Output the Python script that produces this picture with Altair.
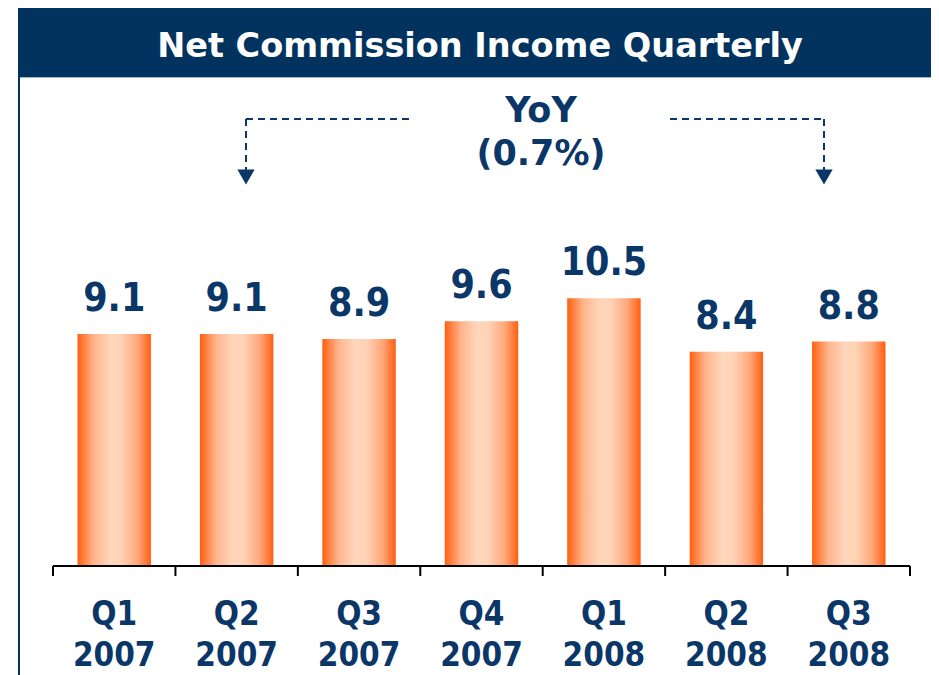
import altair as alt
import pandas as pd

quarters = ["Q1", "Q2", "Q3", "Q4", "Q1", "Q2", "Q3"]
years = ["2007", "2007", "2007", "2007", "2008", "2008", "2008"]
values = [9.1, 9.1, 8.9, 9.6, 10.5, 8.4, 8.8]
title_text = "Net Commission Income Quarterly"
yoy_lines = ["YoY", "(0.7%)"]

NAVY = "#0a3768"
BANNER = "#02335f"
FONT = "DejaVu Sans Condensed"
WIDE = "DejaVu Sans"

df = pd.DataFrame({
    "key": [f"{q} {y}" for q, y in zip(quarters, years)],
    "label": [f"{q}|{y}" for q, y in zip(quarters, years)],
    "value": values,
})
order = list(df["key"])

W, H = 857, 558
band_scale = alt.Scale(paddingInner=0, paddingOuter=0)
x_enc = alt.X("key:N", sort=order, axis=None, scale=band_scale)
y_scale = alt.Scale(domain=[0, 21.88], nice=False, zero=True)

base = alt.Chart(df)

grad = alt.Gradient(
    gradient="linear",
    stops=[
        alt.GradientStop(color="#ff5f10", offset=0),
        alt.GradientStop(color="#ffb48c", offset=0.22),
        alt.GradientStop(color="#ffd7bc", offset=0.45),
        alt.GradientStop(color="#ffd2b4", offset=0.6),
        alt.GradientStop(color="#ffa67a", offset=0.82),
        alt.GradientStop(color="#ff5f10", offset=1),
    ],
    x1=0, x2=1, y1=0, y2=0,
)

bars = base.mark_bar(color=grad, width=alt.RelativeBandSize(0.6)).encode(
    x=x_enc,
    y=alt.Y("value:Q", scale=y_scale, axis=None),
)

vlabels = base.mark_text(
    font=FONT, fontSize=39, fontWeight="bold", color=NAVY,
    baseline="alphabetic", dy=-23,
).encode(
    x=x_enc,
    y=alt.Y("value:Q", scale=y_scale),
    text=alt.Text("value:Q", format=".1f"),
)

xlabels = base.mark_text(
    font=FONT, fontSize=33, fontWeight="bold", color=NAVY,
    baseline="alphabetic", lineBreak="|", lineHeight=41,
).encode(
    x=x_enc,
    y=alt.value(617),
    text="label:N",
)

# axis line and ticks
axis_line = base.mark_rule(color="black", strokeWidth=2).encode(
    x=alt.value(0), x2=alt.value(W), y=alt.value(H),
)
ticks = base.mark_rule(color="black", strokeWidth=2).encode(
    x=alt.X("key:N", sort=order, bandPosition=0, axis=None, scale=band_scale),
    y=alt.value(H), y2=alt.value(H + 10),
)
last_tick = base.mark_rule(color="black", strokeWidth=2).encode(
    x=alt.value(W), y=alt.value(H), y2=alt.value(H + 10),
)

one = alt.Chart(pd.DataFrame({"t": [title_text]}))

banner = one.mark_rect(color=BANNER).encode(
    x=alt.value(-35), x2=alt.value(878), y=alt.value(0), y2=alt.value(69),
)
banner_line = one.mark_rule(color="#9fb2c8", strokeWidth=1).encode(
    x=alt.value(-35), x2=alt.value(878), y=alt.value(69.5),
)
left_border = one.mark_rule(color=BANNER, strokeWidth=2).encode(
    x=alt.value(-34), y=alt.value(69), y2=alt.value(H + 120),
)
title = one.mark_text(
    font=WIDE, fontSize=33.5, fontWeight="bold", color="white",
    baseline="alphabetic",
).encode(x=alt.value(427), y=alt.value(49), text="t:N")

yoy = alt.Chart(pd.DataFrame({"t": ["|".join(yoy_lines)]})).mark_text(
    font=WIDE, fontSize=35, fontWeight="bold", color=NAVY,
    baseline="alphabetic", lineBreak="|", lineHeight=43,
).encode(x=alt.value(488), y=alt.value(114), text="t:N")

dash = dict(color=NAVY, strokeWidth=2, strokeDash=[7, 5])
l_h = one.mark_rule(**dash).encode(x=alt.value(193), x2=alt.value(358), y=alt.value(111))
l_v = one.mark_rule(**dash).encode(x=alt.value(193), y=alt.value(111), y2=alt.value(162))
r_h = one.mark_rule(**dash).encode(x=alt.value(617), x2=alt.value(771), y=alt.value(111))
r_v = one.mark_rule(**dash).encode(x=alt.value(771), y=alt.value(111), y2=alt.value(162))
arrows = alt.Chart(pd.DataFrame({"ax": [193, 771]})).mark_point(
    shape="triangle-down", filled=True, color=NAVY, size=300, opacity=1,
).encode(x=alt.X("ax:Q", scale=None), y=alt.value(169))

chart = alt.layer(
    banner, banner_line, left_border, title, yoy,
    l_h, l_v, r_h, r_v, arrows,
    bars, vlabels, xlabels, axis_line, ticks, last_tick,
).resolve_scale(x="independent").properties(
    width=W, height=H,
    autosize=alt.AutoSizeParams(type="none"),
    padding={"left": 45, "top": 0, "right": 21, "bottom": 109},
).configure_view(strokeWidth=0)

chart.save("out.html", embed_options={"renderer": "svg", "actions": False})
